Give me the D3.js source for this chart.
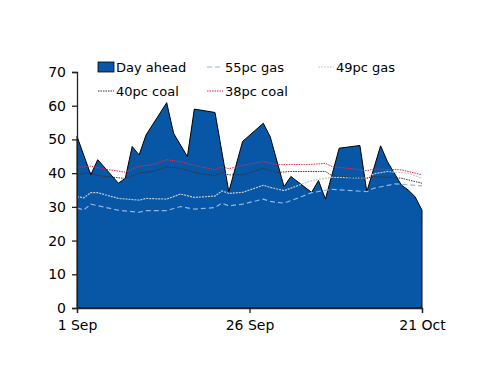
<!DOCTYPE html>
<html>
<head>
<meta charset="utf-8">
<script src="https://cdn.jsdelivr.net/npm/d3@7"></script>
<style>
  body { margin: 0; background: #fff; }
  text { font-family: "DejaVu Sans", sans-serif; fill: #000; }
</style>
</head>
<body>
<div id="graph"></div>
<script>
const width = 500;
const height = 386;
const margin = {left: 77, right: 78, top: 72, bottom: 78};

// days since 1 Sep
const dayAhead = [[0,50.9],[2,39.5],[3,44],[6,37],[7,38.5],[8,47.9],[9,45.4],[10,51.3],[13,60.9],[14,51.8],[16,44.9],[17,59],[20,58],[22,34.5],[24,49.4],[27,54.8],[28,50.8],[30,36],[31,39],[34,34.3],[35,37.8],[36,32.3],[38,47.4],[41,48.2],[42,34.5],[44,48.1],[45,43.4],[47,36.5],[48,35],[49,33],[50,29]];
const gas55 = [[0,29.6],[1,29.1],[2,30.8],[6,29],[9,28.4],[10,28.9],[13,28.9],[15,30.1],[17,29.3],[20,29.8],[21,31.1],[22,30.3],[24,30.8],[27,32.3],[28,31.6],[30,31.1],[32,32.6],[34,34.2],[37,35.2],[42,34.5],[43,35.5],[46,36.8],[48,36.6],[50,36.2]];
const gas49 = [[0,33],[1,32.7],[2,34.2],[3,34.2],[6,32.5],[9,32],[10,32.5],[13,32.3],[15,33.8],[17,32.8],[20,33.2],[21,34.7],[22,34],[24,34.3],[27,36.4],[28,35.8],[30,34.8],[32,36.3],[34,37.8],[37,38.8],[42,38.5],[43,39.8],[45,40.5],[48,40],[50,38.5]];
const coal40 = [[0,39.5],[2,40.2],[3,39.3],[7,38.4],[9,40],[11,40.5],[13,41.9],[15,41.4],[17,40.2],[20,39.2],[21,40.2],[22,39.5],[24,39.5],[27,41.4],[29,40.2],[31,40.5],[36,40.5],[37,39.2],[41,38.6],[42,38.5],[43,39],[47,38.5],[50,37]];
const coal38 = [[0,41.7],[2,42.1],[4,41.2],[7,40.3],[9,42],[11,42.5],[13,44],[15,43.4],[17,42.3],[20,41],[21,41.9],[22,41.3],[24,42.3],[27,43.4],[29,42.5],[31,42.6],[33,42.5],[36,42.9],[37,41.9],[40,41.3],[42,40.7],[43,41.2],[47,41],[48,40.5],[50,39.5]];

const xTicks = [0, 25, 50];
const xTickLabels = ["1 Sep", "26 Sep", "21 Oct"];
const yTicks = [0, 10, 20, 30, 40, 50, 60, 70];

const lineSeries = [
  {name: "55pc gas", data: gas55, color: "#8fb6e6", dash: "5,3", w: 1.2},
  {name: "49pc gas", data: gas49, color: "#c9c9c9", dash: "2,1", w: 1.2},
  {name: "40pc coal", data: coal40, color: "#333", dash: "1.5,1", w: 1},
  {name: "38pc coal", data: coal38, color: "#e0284a", dash: "1.5,1", w: 1}
];

const x = d3.scaleLinear().domain([0, 50]).range([margin.left, width - margin.right]);
const y = d3.scaleLinear().domain([0, 70]).range([height - margin.bottom, margin.top]);

const svg = d3.select('#graph').append('svg')
  .attr('width', width)
  .attr('height', height);

const area = d3.area()
  .x(d => x(d[0]))
  .y0(y(0))
  .y1(d => y(d[1]));

svg.append("path")
  .datum(dayAhead)
  .attr("d", area)
  .attr("fill", "#0757a6")
  .attr("stroke", "#000")
  .attr("stroke-width", 1);

const line = d3.line()
  .x(d => x(d[0]))
  .y(d => y(d[1]));

for (let s of lineSeries) {
  svg.append("path")
    .datum(s.data)
    .attr("d", line)
    .attr("fill", "none")
    .attr("stroke", s.color)
    .attr("stroke-width", s.w)
    .attr("stroke-dasharray", s.dash);
}

// axes
const yAxis = svg.append("g")
  .attr("transform", `translate(${margin.left},0)`)
  .call(d3.axisLeft(y).tickValues(yTicks).tickSize(5).tickPadding(6));
const xAxis = svg.append("g")
  .attr("transform", `translate(0,${y(0)})`)
  .call(d3.axisBottom(x).tickValues(xTicks).tickSize(5).tickPadding(7)
    .tickFormat((d, i) => xTickLabels[i]));

for (let a of [yAxis, xAxis]) {
  a.selectAll("path, line").attr("stroke", "#222").attr("stroke-width", 1.3);
  a.selectAll("text").style("font-family", "DejaVu Sans, sans-serif").style("font-size", "14px").attr("fill", "#000");
}

// legend
const legend = svg.append("g").style("font-size", "13px");
const legendItems = [
  {name: "Day ahead", col: 0, row: 0},
  {name: "55pc gas", col: 1, row: 0, s: lineSeries[0]},
  {name: "49pc gas", col: 2, row: 0, s: lineSeries[1]},
  {name: "40pc coal", col: 0, row: 1, s: lineSeries[2]},
  {name: "38pc coal", col: 1, row: 1, s: lineSeries[3]}
];
const colX = [98, 207, 318];
const rowY = [67, 91];
for (let it of legendItems) {
  const lx = colX[it.col], ly = rowY[it.row];
  if (!it.s) {
    legend.append("rect").attr("x", lx).attr("y", ly - 5).attr("width", 16).attr("height", 10)
      .attr("fill", "#0757a6").attr("stroke", "#000").attr("stroke-width", 0.8);
  } else {
    legend.append("line").attr("x1", lx).attr("x2", lx + 16).attr("y1", ly).attr("y2", ly)
      .attr("stroke", it.s.color).attr("stroke-width", it.s.w).attr("stroke-dasharray", it.s.dash);
  }
  legend.append("text").attr("x", lx + 18).attr("y", ly).attr("dy", "0.36em").text(it.name);
}
</script>
</body>
</html>
